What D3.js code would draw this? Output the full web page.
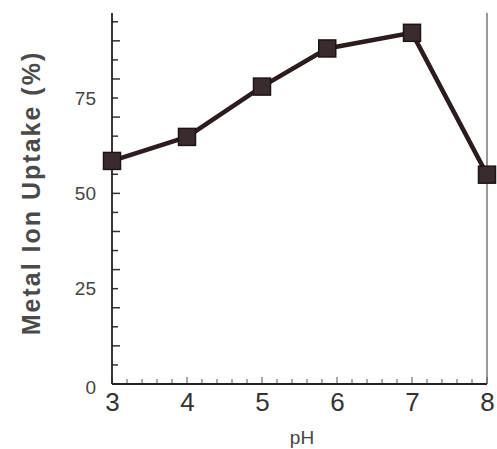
<!DOCTYPE html>
<html>
<head>
<meta charset="utf-8">
<script src="https://cdn.jsdelivr.net/npm/d3@7"></script>
<style>
  body { margin: 0; background: #fff; }
  text { font-family: "Liberation Sans", Arial, sans-serif; }
</style>
</head>
<body>
<div id="chart"></div>
<script>
var svgWidth = 497;
var svgHeight = 449;

// data
var phValues = [3, 4, 5, 5.87, 7, 8];
var uptakeValues = [58.5, 64.8, 78, 88, 92.1, 54.9];
var xTickValues = [3, 4, 5, 6, 7, 8];
var yTickValues = [0, 25, 50, 75];

var margin = { top: 13, right: 10, bottom: 65, left: 112 };
var chartWidth = 487 - margin.left;
var chartHeight = 384 - margin.top;

var svg = d3.select("#chart")
  .append("svg")
  .attr("width", svgWidth)
  .attr("height", svgHeight);

var chartGroup = svg.append("g")
  .attr("transform", `translate(${margin.left}, ${margin.top})`);

var xScale = d3.scaleLinear()
  .domain([3, 8])
  .range([0, chartWidth]);

var yScale = d3.scaleLinear()
  .domain([0, 97.3])
  .range([chartHeight, 0]);

// minor ticks, pointing inward
var xMinor = d3.range(3, 8.001, 0.2);
chartGroup.selectAll(".xminor")
  .data(xMinor)
  .enter()
  .append("line")
  .attr("x1", d => xScale(d))
  .attr("x2", d => xScale(d))
  .attr("y1", chartHeight)
  .attr("y2", d => Math.abs(d - Math.round(d)) < 0.01 ? chartHeight - 7 : chartHeight - 5)
  .attr("stroke", "#555")
  .attr("stroke-width", 1);

var yMinor = d3.range(5, 96, 5);
chartGroup.selectAll(".yminor")
  .data(yMinor)
  .enter()
  .append("line")
  .attr("x1", 0)
  .attr("x2", d => d % 10 === 0 ? 8 : 6)
  .attr("y1", d => yScale(d))
  .attr("y2", d => yScale(d))
  .attr("stroke", "#333")
  .attr("stroke-width", 1.5);

// axis lines
chartGroup.append("line")
  .attr("x1", 0).attr("x2", 0)
  .attr("y1", 0).attr("y2", chartHeight)
  .attr("stroke", "#222").attr("stroke-width", 1.8);

chartGroup.append("line")
  .attr("x1", 0).attr("x2", chartWidth)
  .attr("y1", chartHeight).attr("y2", chartHeight)
  .attr("stroke", "#222").attr("stroke-width", 2);

chartGroup.append("line")
  .attr("x1", chartWidth).attr("x2", chartWidth)
  .attr("y1", 0).attr("y2", chartHeight)
  .attr("stroke", "#555").attr("stroke-width", 1.2);

// tick labels
var bottomAxis = d3.axisBottom(xScale)
  .tickValues(xTickValues)
  .tickFormat(d3.format("d"))
  .tickSize(0)
  .tickPadding(9);
var xAxisG = chartGroup.append("g")
  .attr("transform", `translate(0, ${chartHeight})`)
  .call(bottomAxis);
xAxisG.select(".domain").remove();
xAxisG.selectAll("text")
  .style("font-size", "26px")
  .style("font-family", "Liberation Sans, Arial, sans-serif")
  .attr("fill", "#333");

var leftAxis = d3.axisLeft(yScale)
  .tickValues(yTickValues)
  .tickSize(0)
  .tickPadding(16);
var yAxisG = chartGroup.append("g").call(leftAxis);
yAxisG.select(".domain").remove();
yAxisG.selectAll("text")
  .style("font-size", "19px")
  .style("font-family", "Liberation Sans, Arial, sans-serif")
  .attr("fill", "#444")
  .attr("dy", d => d === 0 ? "0.5em" : "0.32em");

// line and markers
var points = phValues.map((p, i) => ({ ph: p, uptake: uptakeValues[i] }));

var line = d3.line()
  .x(d => xScale(d.ph))
  .y(d => yScale(d.uptake));

chartGroup.append("path")
  .datum(points)
  .attr("d", line)
  .attr("fill", "none")
  .attr("stroke", "#2b1c1e")
  .attr("stroke-width", 4.5);

chartGroup.selectAll(".marker")
  .data(points)
  .enter()
  .append("rect")
  .attr("x", d => xScale(d.ph) - 8.5)
  .attr("y", d => yScale(d.uptake) - 8.5)
  .attr("width", 17)
  .attr("height", 17)
  .attr("fill", "#3a2c2e")
  .attr("stroke", "#1e1416")
  .attr("stroke-width", 1.5);

// axis titles
svg.append("text")
  .attr("transform", "translate(40, 193) rotate(-90)")
  .attr("text-anchor", "middle")
  .style("font-size", "25px")
  .style("letter-spacing", "2px")
  .attr("font-weight", "bold")
  .attr("fill", "#4a4a4a")
  .text("Metal Ion Uptake (%)");

svg.append("text")
  .attr("x", 302)
  .attr("y", 444)
  .attr("text-anchor", "middle")
  .style("font-size", "19px")
  .attr("fill", "#444")
  .text("pH");
</script>
</body>
</html>
